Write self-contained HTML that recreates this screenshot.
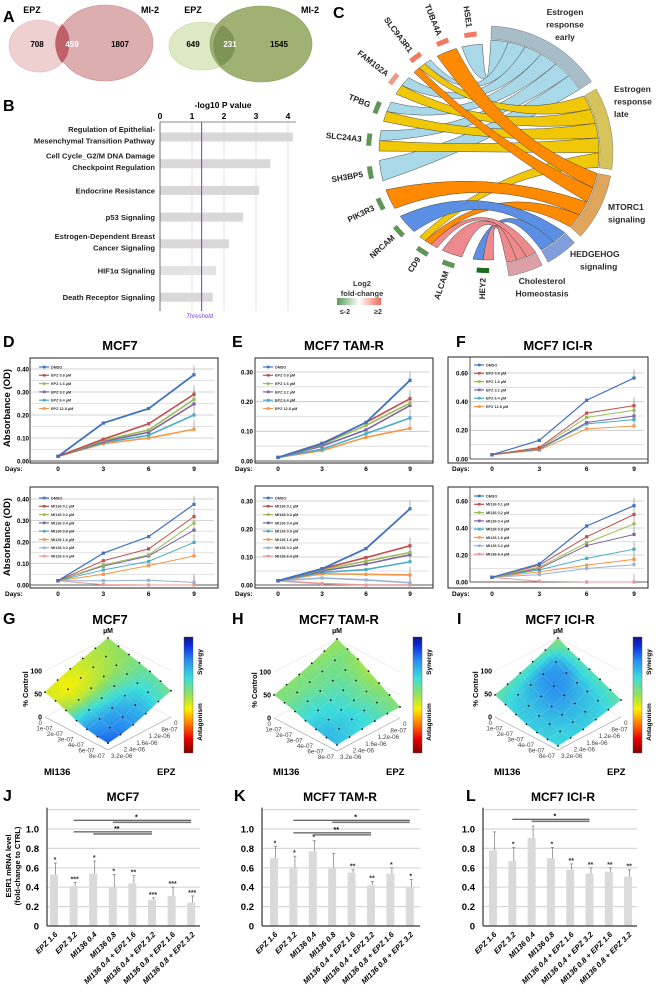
<!DOCTYPE html>
<html><head><meta charset="utf-8"><style>
html,body{margin:0;padding:0;background:#fff;}
svg{display:block;font-family:"Liberation Sans",Arial,sans-serif;}
.b{font-weight:bold;}
</style></head><body>
<svg id="fig" width="659" height="991" viewBox="0 0 659 991" xmlns="http://www.w3.org/2000/svg">
<defs>
<linearGradient id="fcg" x1="0" x2="1" y1="0" y2="0"><stop offset="0" stop-color="#5a9a55"/><stop offset="0.5" stop-color="#ffffff"/><stop offset="1" stop-color="#f26a55"/></linearGradient>
<linearGradient id="jetg" x1="0" x2="0" y1="1" y2="0"><stop offset="0" stop-color="#800000"/><stop offset="0.12" stop-color="#e60000"/><stop offset="0.25" stop-color="#ff7800"/><stop offset="0.38" stop-color="#faf000"/><stop offset="0.5" stop-color="#96e15a"/><stop offset="0.65" stop-color="#3cdcdc"/><stop offset="0.8" stop-color="#288cf0"/><stop offset="0.93" stop-color="#0a28dc"/><stop offset="1" stop-color="#141478"/></linearGradient>
</defs>
<!-- Panel A -->
<g>
<text x="3" y="22" class="b" font-size="16">A</text>
<ellipse cx="39" cy="46" rx="30" ry="26" fill="#efd0d0" stroke="#e3b8b8" stroke-width="0.6"/>
<ellipse cx="105" cy="43" rx="48" ry="38" fill="#d9a7a9" fill-opacity="0.92" stroke="#c89092" stroke-width="0.6"/>
<path d="M69,46 A30,26 0 0 1 62,63 A48,38 0 0 1 62,24 A30,26 0 0 1 69,46Z" fill="#c06068"/>
<text x="32" y="13" class="b" font-size="9" text-anchor="middle">EPZ</text>
<text x="150" y="13" class="b" font-size="9" text-anchor="middle">MI-2</text>
<text x="37" y="47" class="b" font-size="8" text-anchor="middle">708</text>
<text x="72" y="47" class="b" font-size="8" text-anchor="middle" fill="#fff">459</text>
<text x="120" y="47" class="b" font-size="8" text-anchor="middle">1807</text>
<ellipse cx="202" cy="46" rx="33" ry="24" fill="#dde8c5" stroke="#c5d6a4" stroke-width="0.6"/>
<ellipse cx="261" cy="44" rx="51" ry="38" fill="#9bae6c" fill-opacity="0.95" stroke="#8a9d5c" stroke-width="0.6"/>
<path d="M235,46 A33,24 0 0 1 221,66 A51,38 0 0 1 222,25 A33,24 0 0 1 235,46Z" fill="#7f9357"/>
<text x="193" y="13" class="b" font-size="9" text-anchor="middle">EPZ</text>
<text x="310" y="13" class="b" font-size="9" text-anchor="middle">MI-2</text>
<text x="193" y="47" class="b" font-size="8" text-anchor="middle">649</text>
<text x="230" y="47" class="b" font-size="8" text-anchor="middle" fill="#fff">231</text>
<text x="279" y="47" class="b" font-size="8" text-anchor="middle">1545</text>
</g>
<g id="pB"></g>
<g id="pC"></g>
<g id="pDEF"></g>
<g id="pGHI"></g>
<g id="pJKL"></g>
</svg>
<script>
const NS='http://www.w3.org/2000/svg';
function mk(tag,attrs,parent){const e=document.createElementNS(NS,tag);for(const k in attrs)e.setAttribute(k,attrs[k]);parent.appendChild(e);return e;}
function tx(str,x,y,attrs,parent){const e=mk('text',Object.assign({x:x,y:y},attrs),parent);e.textContent=str;return e;}

/* ---------- Panel B data ---------- */
const bCategories=['Regulation of Epithelial-|Mesenchymal Transition Pathway','Cell Cycle_G2/M DNA Damage|Checkpoint Regulation','Endocrine Resistance','p53 Signaling','Estrogen-Dependent Breast|Cancer Signaling','HIF1\u03b1 Signaling','Death Receptor Signaling'];
const bValues=[4.15,3.45,3.1,2.6,2.15,1.75,1.65];
const bTicks=[0,1,2,3,4];
const bThreshold=1.3;

/* ---------- Panel C data ---------- */
const cGenes=['HSE1','TUBA4A','SLC9A3R1','FAM102A','TPBG','SLC24A3','SH3BP5','PIK3R3','NRCAM','CD9','ALCAM','HEY2'];
const cGeneFC=[1.4,1.5,1.3,0.9,-1.2,-1.2,-1.2,-1.2,-1.4,-1.4,-1.4,-2.5];
const cPathways=['Estrogen response early','Estrogen response late','MTORC1 signaling','HEDGEHOG signaling','Cholesterol Homeostasis'];
const cLinks=[[0,0],[2,0],[3,0],[4,0],[5,0],[6,0],[2,1],[3,1],[4,1],[5,1],[9,1],[1,2],[2,2],[7,2],[9,2],[8,3],[11,3],[10,4],[9,4],[11,4]];

/* ---------- Panels D/E/F data ---------- */
const days=[0,3,6,9];
const epzLegend=['DMSO','EPZ 0.8 \u00b5M','EPZ 1.6 \u00b5M','EPZ 3.2 \u00b5M','EPZ 6.4 \u00b5M','EPZ 12.8 \u00b5M'];
const miLegend=['DMSO','MI136 0.1 \u00b5M','MI136 0.2 \u00b5M','MI136 0.4 \u00b5M','MI136 0.8 \u00b5M','MI136 1.6 \u00b5M','MI136 3.2 \u00b5M','MI136 6.4 \u00b5M'];
const dTop=[[0.02,0.165,0.228,0.375],[0.02,0.095,0.162,0.29],[0.02,0.09,0.135,0.268],[0.02,0.085,0.125,0.248],[0.02,0.08,0.112,0.2],[0.02,0.075,0.1,0.138]];
const dBottom=[[0.02,0.148,0.225,0.375],[0.02,0.113,0.168,0.318],[0.02,0.093,0.14,0.288],[0.02,0.088,0.135,0.255],[0.02,0.07,0.11,0.198],[0.02,0.05,0.09,0.135],[0.02,0.02,0.022,0.012],[0.02,0.002,0.0,0.0]];
const eTop=[[0.012,0.058,0.13,0.272],[0.012,0.06,0.13,0.21],[0.012,0.055,0.12,0.195],[0.012,0.05,0.105,0.187],[0.012,0.04,0.092,0.145],[0.012,0.035,0.08,0.11]];
const eBottom=[[0.015,0.058,0.13,0.272],[0.015,0.058,0.098,0.14],[0.015,0.055,0.085,0.116],[0.015,0.05,0.075,0.108],[0.015,0.045,0.055,0.083],[0.015,0.04,0.038,0.036],[0.015,0.025,0.018,0.008],[0.015,0.005,0.0,0.0]];
const fTop=[[0.03,0.13,0.41,0.565],[0.03,0.08,0.32,0.372],[0.03,0.075,0.29,0.34],[0.03,0.07,0.255,0.3],[0.03,0.068,0.245,0.275],[0.03,0.062,0.21,0.23]];
const fBottom=[[0.035,0.135,0.415,0.565],[0.035,0.125,0.335,0.5],[0.035,0.11,0.29,0.43],[0.035,0.1,0.27,0.352],[0.035,0.09,0.175,0.243],[0.035,0.075,0.125,0.168],[0.035,0.055,0.1,0.128],[0.035,0.005,0.0,0.0]];
const dTicks=['0.00','0.10','0.20','0.30','0.40'];
const eTicks=['0.00','0.10','0.20','0.30'];
const fTicks=['0.00','0.20','0.40','0.60'];

/* ---------- Panels G/H/I data (rows: MI136 dose, cols: EPZ dose) ---------- */
const miDoses=['0','1e-07','2e-07','3e-07','4e-07','6e-07','8e-07'];
const epzDoses=['0','8e-07','1.2e-06','1.6e-06','2.4e-06','3.2e-06'];
const zTicks=[0,50,100];
const gControl=[[100,92,84,76,66,54],[94,86,77,68,58,47],[88,79,69,58,47,38],[82,72,60,48,37,28],[75,64,51,39,29,21],[66,56,43,31,22,17],[57,48,36,26,19,15]];
const gSynergy=[[0,-0.05,-0.1,-0.15,-0.2,-0.15],[0.02,-0.05,-0.1,-0.2,-0.25,-0.15],[0.05,0,-0.05,-0.1,-0.1,0],[0.1,0.1,0.15,0.2,0.3,0.35],[0.15,0.25,0.35,0.45,0.5,0.55],[0.15,0.3,0.45,0.55,0.6,0.65],[0.1,0.25,0.45,0.55,0.65,0.7]];
const hControl=[[100,88,76,66,58,50],[90,80,70,61,53,45],[80,71,62,54,46,38],[66,60,53,46,38,30],[52,48,43,37,30,23],[38,36,33,28,22,17],[24,24,22,19,16,13]];
const hSynergy=[[0,0,0.05,0.05,0.05,0.05],[0.05,0.1,0.1,0.1,0.1,0.1],[0,0.1,0.15,0.15,0.2,0.2],[-0.05,0.1,0.2,0.25,0.3,0.3],[0,0.1,0.2,0.3,0.35,0.4],[0.05,0.15,0.25,0.35,0.4,0.45],[0.05,0.15,0.25,0.3,0.35,0.4]];
const iControl=[[100,88,77,67,57,48],[88,74,62,53,46,39],[78,62,48,40,34,29],[68,53,40,30,24,20],[58,46,34,24,18,14],[47,38,28,20,14,11],[37,30,23,16,12,9]];
const iSynergy=[[0.05,0.15,0.2,0.2,0.2,0.15],[0.15,0.5,0.55,0.45,0.35,0.3],[0.2,0.55,0.6,0.5,0.4,0.35],[0.2,0.45,0.55,0.5,0.4,0.35],[0.2,0.4,0.45,0.45,0.4,0.35],[0.2,0.35,0.4,0.4,0.35,0.35],[0.15,0.3,0.35,0.35,0.35,0.3]];

/* ---------- Panels J/K/L data ---------- */
const jklCategories=['EPZ 1.6','EPZ 3.2','MI136 0.4','MI136 0.8','MI136 0.4 + EPZ 1.6','MI136 0.4 + EPZ 3.2','MI136 0.8 + EPZ 1.6','MI136 0.8 + EPZ 3.2'];
const jklTicks=['0','0.2','0.4','0.6','0.8','1.0'];
const jValues=[0.53,0.41,0.54,0.40,0.44,0.27,0.31,0.24];
const jErrTop=[0.65,0.45,0.67,0.53,0.52,0.29,0.40,0.31];
const jStars=['*','***','*','*','**','***','***','***'];
const jSig=[[1,7,3,1.09,'*'],[1,5,2,0.97,'**']];
const kValues=[0.70,0.60,0.77,0.60,0.55,0.42,0.54,0.40];
const kErrTop=[0.82,0.72,0.88,0.75,0.58,0.46,0.60,0.48];
const kStars=['*','*','*','','**','**','*','*'];
const kSig=[[1,7,3,1.09,'*'],[1,5,2,0.96,'**']];
const lValues=[0.78,0.67,0.91,0.70,0.58,0.54,0.56,0.51];
const lErrTop=[0.97,0.81,1.03,0.81,0.64,0.60,0.60,0.58];
const lStars=['','*','','*','**','**','**','**'];
const lSig=[[1,5,2,1.10,'*']];

/* ================= Panel B ================= */
(function(){
 const g=document.getElementById('pB');
 const x=v=>160+v*32;
 const yc=i=>137+i*26.7;
 let t=tx('B',3,111,{'class':'b','font-size':16},g);
 
 
 t=tx('-log10 P value',223,108,{'class':'b','font-size':8.5,'text-anchor':'middle'},g);
 
 
 bTicks.forEach(v=>{
  const gl=mk('line',{x1:x(v),x2:x(v),y1:122,y2:311,stroke:'#dcdcdc','stroke-width':0.8},g);
  
  
  const tl=tx(String(v),x(v),119,{'class':'b','font-size':8.5,'text-anchor':'middle'},g);
  
  
 });
 bValues.forEach((v,i)=>{
  const r=mk('rect',{x:160,y:yc(i)-4.5,width:x(v)-160,height:9,fill:i===5?'#e3e3e3':'#d8d8d8'},g);
  
  
  const lines=bCategories[i].split('|');
  lines.forEach((ln,k)=>{
   const yy=lines.length===1?yc(i)+3:yc(i)-5+k*11.5;
   const lt=tx(ln,155,yy,{'class':'b','font-size':7.6,'text-anchor':'end',fill:'#222'},g);
   
   
  });
 });
 let ax=mk('line',{x1:160,x2:296,y1:122,y2:122,stroke:'#666','stroke-width':0.8},g);
 
 
 ax=mk('line',{x1:160,x2:160,y1:122,y2:311,stroke:'#555','stroke-width':0.8},g);
 
 
 const th=mk('line',{x1:x(bThreshold),x2:x(bThreshold),y1:122,y2:311,stroke:'#8a3cf0','stroke-width':1.1},g);
 
 
 t=tx('Threshold',x(bThreshold)-2,318,{'font-size':6,'font-style':'italic','text-anchor':'middle',fill:'#7b3ce8'},g);
 
 
})();

/* ================= Panel C ================= */
(function(){
 const g=document.getElementById('pC');
 const cx=487,cy=152;
 const P=(a,r)=>[cx+r*Math.sin(a*Math.PI/180),cy-r*Math.cos(a*Math.PI/180)];
 const geneAng=[-8,-22,-37,-52,-68,-84,-100,-116,-132,-147,-161,-178];
 const pStart=[2,60,101,136,154],pEnd=[56,98,132,151,170];
 const pFill=['#a9d9e8','#f0c808','#ff8a00','#5b8fe3','#ec8a8e'];
 const pArc=['#a7bdc8','#d6c35c','#e0a55c','#7f9edb','#dca0a6'];
 let t=tx('C',333,18,{'class':'b','font-size':16},g);
 
 
 const gSlots=cGenes.map(()=>[]);const pSlots=cPathways.map(()=>[]);
 cLinks.forEach((l,i)=>{gSlots[l[0]].push(i);pSlots[l[1]].push(i);});
 const lg={},lp={};
 gSlots.forEach((arr,gi)=>{arr.sort((a,b)=>cLinks[b][1]-cLinks[a][1]);const w=11/arr.length;arr.forEach((li,k)=>{lg[li]=[geneAng[gi]-5.5+k*w,geneAng[gi]-5.5+(k+1)*w];});});
 pSlots.forEach((arr,pi)=>{arr.sort((a,b)=>geneAng[cLinks[b][0]]-geneAng[cLinks[a][0]]);const w=(pEnd[pi]-pStart[pi])/arr.length;arr.forEach((li,k)=>{lp[li]=[pStart[pi]+k*w,pStart[pi]+(k+1)*w];});});
 const order=cLinks.map((l,i)=>i).sort((a,b)=>cLinks[a][1]-cLinks[b][1]);
 order.forEach(li=>{
  const R1=108,R2=112;
  const [g1,g2]=lg[li],[p1,p2]=lp[li];
  const a=P(g1,R1),b=P(g2,R1),c=P(p1,R2),d=P(p2,R2);
  const q=(u,v)=>[cx+(u[0]+v[0]-2*cx)*0.18,cy+(u[1]+v[1]-2*cy)*0.18];
  const q1=q(b,c),q2=q(d,a);
  const dstr=`M${a[0]},${a[1]} A${R1},${R1} 0 0 1 ${b[0]},${b[1]} Q${q1[0]},${q1[1]} ${c[0]},${c[1]} A${R2},${R2} 0 0 1 ${d[0]},${d[1]} Q${q2[0]},${q2[1]} ${a[0]},${a[1]}Z`;
  const rb=mk('path',{d:dstr,fill:pFill[cLinks[li][1]],stroke:'#3a3a3a','stroke-width':0.45},g);
  
  
 });
 cPathways.forEach((n,pi)=>{
  const a=P(pStart[pi],113),b=P(pEnd[pi],113),c=P(pEnd[pi],126),d=P(pStart[pi],126);
  const lf=(pEnd[pi]-pStart[pi])>180?1:0;
  const arc=mk('path',{d:`M${a[0]},${a[1]} A113,113 0 ${lf} 1 ${b[0]},${b[1]} L${c[0]},${c[1]} A126,126 0 ${lf} 0 ${d[0]},${d[1]}Z`,fill:pArc[pi],stroke:'#666','stroke-width':0.4},g);
  
  
 });
 const pLab=[[['Estrogen','response','early'],565,15,'middle'],[['Estrogen','response','late'],614,92,'start'],[['MTORC1','signaling'],608,210,'start'],[['HEDGEHOG','signaling'],570,257,'start'],[['Cholesterol','Homeostasis'],542,284,'middle']];
 pLab.forEach((pl,i)=>{
  pl[0].forEach((s,k)=>{
   const xx=(i===3&&k===1)?580:pl[1];
   const lt=tx(s,xx,pl[2]+k*12.5,{'class':'b','font-size':8.5,'text-anchor':pl[3],fill:'#2a2a2a'},g);
   
   
  });
 });
 cGenes.forEach((n,gi)=>{
  const a=geneAng[gi];
  const fc=cGeneFC[gi];
  const col=fc>2?'#f0624c':fc>0?(fc>1.2?'#f27a62':'#f39a88'):(fc<-2?'#1f6b1f':'#5f9657');
  const p1=P(a-3,116),p2=P(a+3,116),p3=P(a+3,121),p4=P(a-3,121);
  const bar=mk('path',{d:`M${p1[0]},${p1[1]} A116,116 0 0 1 ${p2[0]},${p2[1]} L${p3[0]},${p3[1]} A121,121 0 0 0 ${p4[0]},${p4[1]}Z`,fill:col},g);
  
  
  const lp=P(a,126);
  const lt=tx(n,lp[0],lp[1]+3,{'class':'b','font-size':8.2,'text-anchor':'end',fill:'#222',transform:`rotate(${a+90} ${lp[0]} ${lp[1]})`},g);
  
  
 });
 t=tx('Log2',362,286,{'class':'b','font-size':7.5,'text-anchor':'middle',fill:'#333'},g);
 
 
 t=tx('fold-change',362,296,{'class':'b','font-size':7.5,'text-anchor':'middle',fill:'#333'},g);
 
 
 const lgb=mk('rect',{x:337,y:298,width:44,height:7,fill:'url(#fcg)'},g);
 
 
 t=tx('\u2264-2',345,314,{'class':'b','font-size':7,'text-anchor':'middle',fill:'#333'},g);
 
 
 t=tx('\u22652',378,314,{'class':'b','font-size':7,'text-anchor':'middle',fill:'#333'},g);
 
 
})();

/* ================= Panels D/E/F ================= */
const lineColors=['#3f72c2','#c0504d','#9bbb59','#8064a2','#4bacc6','#f79646','#95b3d7','#e39b9a'];
function lineChart(cfg){
 const g=document.getElementById('pDEF');
 const X=d=>cfg.x0+(d/9)*(cfg.x9-cfg.x0);
 const Y=v=>cfg.y0-(v/cfg.ymax)*(cfg.y0-cfg.yTop);
 const fr=mk('rect',{x:cfg.box[0],y:cfg.box[1],width:cfg.box[2]-cfg.box[0],height:cfg.box[3]-cfg.box[1],fill:'#fff',stroke:'#222','stroke-width':1},g);
 
 
 const n=cfg.ticks.length-1;
 for(let i=0;i<=n*2;i++){
  const v=cfg.ymax*i/(n*2);
  const gl=mk('line',{x1:cfg.axisX,x2:cfg.box[2]-4,y1:Y(v),y2:Y(v),stroke:i%2?'#d8d8d8':'#c4c4c4','stroke-width':0.8},g);
  
  
 }
 cfg.ticks.forEach((s,i)=>{
  const tl=tx(s,cfg.labX,Y(cfg.ymax*i/n)+2.3,{'class':'b','font-size':6.2,'text-anchor':'end'},g);
  
  
 });
 let ax=mk('line',{x1:cfg.axisX,x2:cfg.box[2],y1:cfg.y0,y2:cfg.y0,stroke:'#333','stroke-width':0.8},g);
 
 
 ax=mk('line',{x1:cfg.axisX,x2:cfg.axisX,y1:cfg.box[1],y2:cfg.y0,stroke:'#333','stroke-width':0.8},g);
 
 
 let t=tx('Days:',cfg.daysX,cfg.box[3]+8,{'class':'b','font-size':6.5},g);
 
 
 days.forEach(d=>{
  const tl=tx(String(d),X(d),cfg.box[3]+8,{'class':'b','font-size':6.5,'text-anchor':'middle'},g);
  
  
 });
 const thick=cfg.thin?1:1.6;
 cfg.series.slice().reverse().forEach((s,ri)=>{
  const si=cfg.series.length-1-ri;
  const c=lineColors[si];
  const eb=mk('line',{x1:X(9),x2:X(9),y1:Y(s[3]),y2:Y(s[3]+cfg.ymax*0.1),stroke:'#666','stroke-width':0.5},g);
  
  
  const pl=mk('polyline',{points:s.map((v,i)=>X(days[i])+','+Y(v)).join(' '),fill:'none',stroke:c,'stroke-width':si===0?thick+0.2:thick},g);
  
  
  s.forEach((v,i)=>{
   const m=mk('rect',{x:X(days[i])-1.6,y:Y(v)-1.6,width:3.2,height:3.2,fill:c},g);
   
   
  });
 });
 cfg.legend.forEach((s,i)=>{
  const yy=cfg.legY+i*8.3;
  const ll=mk('line',{x1:cfg.legX,x2:cfg.legX+10,y1:yy,y2:yy,stroke:lineColors[i],'stroke-width':1.2},g);
  
  
  const lm=mk('rect',{x:cfg.legX+4,y:yy-1.3,width:2.6,height:2.6,fill:lineColors[i]},g);
  
  
  const lt=tx(s,cfg.legX+12,yy+1.4,{'font-size':3.8,'class':'b',fill:'#333'},g);
  
  
 });
}
lineChart({box:[30,358,218,463],axisX:30,x0:58,x9:194,y0:461,yTop:369,ymax:0.4,ticks:dTicks,labX:29,daysX:5,series:dTop,legend:epzLegend,legX:39,legY:367});
lineChart({box:[30,487,218,588],axisX:30,x0:58,x9:194,y0:585,yTop:499,ymax:0.4,ticks:dTicks,labX:29,daysX:5,series:dBottom,legend:miLegend,legX:39,legY:498,thin:true});
lineChart({box:[255,358,433,463],axisX:255,x0:278,x9:410,y0:461,yTop:372,ymax:0.3,ticks:eTicks,labX:253,daysX:235,series:eTop,legend:epzLegend,legX:263,legY:367});
lineChart({box:[255,486,433,588],axisX:255,x0:278,x9:410,y0:585,yTop:501,ymax:0.3,ticks:eTicks,labX:253,daysX:235,series:eBottom,legend:miLegend,legX:263,legY:498});
lineChart({box:[448,357,648,463],axisX:470,x0:492,x9:634,y0:459,yTop:373,ymax:0.6,ticks:fTicks,labX:468,daysX:452,series:fTop,legend:epzLegend,legX:474,legY:365,thin:true});
lineChart({box:[448,487,648,588],axisX:470,x0:492,x9:634,y0:582,yTop:501,ymax:0.6,ticks:fTicks,labX:468,daysX:452,series:fBottom,legend:miLegend,legX:474,legY:496,thin:true});
(function(){
 const g=document.getElementById('pDEF');
 const labs=[['D',3,347],['E',232,347],['F',456,347]];
 labs.forEach(l=>{const t=tx(l[0],l[1],l[2],{'class':'b','font-size':16},g);
  
  });
 const tt=[['MCF7',120],['MCF7 TAM-R',344],['MCF7 ICI-R',558]];
 tt.forEach(l=>{const t=tx(l[0],l[1],350,{'class':'b','font-size':13,'text-anchor':'middle'},g);
  
  });
 [408,537].forEach(yc=>{const t=tx('Absorbance (OD)',0,0,{'class':'b','font-size':9.5,'text-anchor':'middle',transform:`translate(10 ${yc}) rotate(-90)`},g);
  
  });
})();

/* ================= Panels G/H/I ================= */
function jet(s){
 const st=[[-1,[128,0,0]],[-0.75,[230,0,0]],[-0.5,[255,120,0]],[-0.25,[250,240,0]],[0,[150,225,90]],[0.3,[60,220,220]],[0.6,[40,140,240]],[0.85,[10,40,220]],[1,[20,20,120]]];
 s=Math.max(-1,Math.min(1,s));
 for(let i=0;i<st.length-1;i++){if(s<=st[i+1][0]){const f=(s-st[i][0])/(st[i+1][0]-st[i][0]);const c=st[i][1].map((v,k)=>Math.round(v+(st[i+1][1][k]-v)*f));return `rgb(${c[0]},${c[1]},${c[2]})`;}}
 return 'rgb(20,20,120)';
}
function bil(arr,m,e){
 const m0=Math.min(Math.floor(m),arr.length-2),e0=Math.min(Math.floor(e),arr[0].length-2);
 const fm=m-m0,fe=e-e0;
 return arr[m0][e0]*(1-fm)*(1-fe)+arr[m0+1][e0]*fm*(1-fe)+arr[m0][e0+1]*(1-fm)*fe+arr[m0+1][e0+1]*fm*fe;
}
function surface(cfg){
 const g=document.getElementById('pGHI');
 const W=63,H=33,K=0.46;
 const nm=miDoses.length-1,ne=epzDoses.length-1;
 const pr=(m,e,z)=>[cfg.cx+(m/nm-e/ne)*W,cfg.by0+(m/nm+e/ne)*H-z*K];
 let t=tx(cfg.letter,cfg.lx,624,{'class':'b','font-size':16},g);
 
 
 t=tx(cfg.title,cfg.cx+2,624,{'class':'b','font-size':13,'text-anchor':'middle'},g);
 
 
 t=tx('\u00b5M',cfg.cx,633,{'class':'b','font-size':7,'text-anchor':'middle'},g);
 
 
 const bl=pr(0,ne,0),br=pr(nm,0,0),bf=pr(nm,ne,0);
 zTicks.forEach(z=>{
  const a=pr(0,ne,z),b=pr(0,0,z),c=pr(nm,0,z);
  const wl=mk('polyline',{points:`${a[0]},${a[1]} ${b[0]},${b[1]} ${c[0]},${c[1]}`,fill:'none',stroke:'#e2e2e2','stroke-width':0.6},g);
  
  
  const zl=tx(String(z),bl[0]-3,bl[1]-z*K+2.5,{'class':'b','font-size':7,'text-anchor':'end'},g);
  
  
 });
 const bp=mk('polyline',{points:`${bl[0]},${bl[1]} ${bf[0]},${bf[1]} ${br[0]},${br[1]}`,fill:'none',stroke:'#999','stroke-width':0.6},g);
 
 
 t=tx('% Control',0,0,{'class':'b','font-size':7.5,'text-anchor':'middle',transform:`translate(${bl[0]-17} ${bl[1]-28}) rotate(-90)`},g);
 
 
 const S=4;
 for(let a=0;a<nm*S;a++)for(let b=0;b<ne*S;b++){
  const pts=[[a,b],[a+1,b],[a+1,b+1],[a,b+1]].map(p=>[p[0]/S,p[1]/S]);
  const sc=bil(cfg.syn,(a+0.5)/S,(b+0.5)/S);
  const poly=pts.map(p=>pr(p[0],p[1],bil(cfg.z,p[0],p[1])).join(',')).join(' ');
  const col=jet(sc);
  const c=mk('polygon',{points:poly,fill:col,stroke:col,'stroke-width':0.5},g);
  
  
 }
 for(let m=0;m<=nm;m++){
  const pts=[];for(let e=0;e<=ne;e++)pts.push(pr(m,e,cfg.z[m][e]).join(','));
  const gl=mk('polyline',{points:pts.join(' '),fill:'none',stroke:'rgba(255,255,255,0.35)','stroke-width':0.4},g);
  
  
 }
 for(let e=0;e<=ne;e++){
  const pts=[];for(let m=0;m<=nm;m++)pts.push(pr(m,e,cfg.z[m][e]).join(','));
  const gl=mk('polyline',{points:pts.join(' '),fill:'none',stroke:'rgba(255,255,255,0.35)','stroke-width':0.4},g);
  
  
 }
 for(let m=0;m<=nm;m++)for(let e=0;e<=ne;e++){
  const p=pr(m,e,cfg.z[m][e]);
  const d=mk('circle',{cx:p[0],cy:p[1],r:0.9,fill:'#111'},g);
  
  
 }
 miDoses.forEach((s,m)=>{
  const p=pr(m,ne,0);
  const l=tx(s,p[0]-3,p[1]+8,{'font-size':6.3,'text-anchor':'end',fill:'#444'},g);
  
  
 });
 epzDoses.forEach((s,e)=>{
  const p=pr(nm,e,0);
  const l=tx(s,p[0]+3,p[1]+8,{'font-size':6.3,'text-anchor':'start',fill:'#444'},g);
  
  
 });
 t=tx('MI136',cfg.cx-64,775,{'class':'b','font-size':9.5},g);
 
 
 t=tx('EPZ',cfg.cx+49,775,{'class':'b','font-size':9.5},g);
 
 
 const cb=mk('rect',{x:cfg.cbx,y:637,width:9,height:116,fill:'url(#jetg)',stroke:'#555','stroke-width':0.4},g);
 
 
 t=tx('Synergy',0,0,{'class':'b','font-size':6.5,'text-anchor':'middle',transform:`translate(${cfg.cbx+18} 662) rotate(-90)`},g);
 
 
 t=tx('Antagonism',0,0,{'class':'b','font-size':6.5,'text-anchor':'middle',transform:`translate(${cfg.cbx+18} 722) rotate(-90)`},g);
 
 
}
surface({letter:'G',lx:3,title:'MCF7',cx:108,by0:684,cbx:184,z:gControl,syn:gSynergy});
surface({letter:'H',lx:232,title:'MCF7 TAM-R',cx:337,by0:685,cbx:413,z:hControl,syn:hSynergy});
surface({letter:'I',lx:457,title:'MCF7 ICI-R',cx:558,by0:684,cbx:633,z:iControl,syn:iSynergy});

/* ================= Panels J/K/L ================= */
function barChart(cfg){
 const g=document.getElementById('pJKL');
 const Y=v=>926-v*97;
 const X=i=>cfg.bx0+i*cfg.step;
 let t=tx(cfg.letter,cfg.lx,801,{'class':'b','font-size':16},g);
 
 
 t=tx(cfg.title,cfg.tx,801,{'class':'b','font-size':12,'text-anchor':'middle'},g);
 
 
 jklTicks.forEach((s,i)=>{
  const v=i*0.2;
  if(i>0){const gl=mk('line',{x1:cfg.ax,x2:cfg.gx,y1:Y(v),y2:Y(v),stroke:'#d6d6d6','stroke-width':1.2},g);
   
   }
  const tl=tx(s,cfg.ax-8,Y(v)+3.5,{'class':'b','font-size':9.5,'text-anchor':'end'},g);
  
  
 });
 const topg=mk('line',{x1:cfg.ax,x2:cfg.gx,y1:Y(1.2),y2:Y(1.2),stroke:'#d6d6d6','stroke-width':1.2},g);
 
 
 cfg.vals.forEach((v,i)=>{
  const e=mk('line',{x1:X(i)+1.5,x2:X(i)+1.5,y1:Y(v),y2:Y(cfg.err[i]),stroke:'#777','stroke-width':0.7},g);
  
  
  const ec=mk('line',{x1:X(i),x2:X(i)+3,y1:Y(cfg.err[i]),y2:Y(cfg.err[i]),stroke:'#777','stroke-width':0.7},g);
  
  
  const r=mk('rect',{x:X(i)-4,y:Y(v),width:8,height:Y(0)-Y(v),fill:'#dadada'},g);
  
  
  if(cfg.stars[i]){const st=tx(cfg.stars[i],X(i)+1,Y(cfg.err[i])-1,{'class':'b','font-size':7,'text-anchor':'middle',fill:'#333'},g);
   
   }
  const xl=tx(jklCategories[i],X(i)+4,935,{'class':'b','font-size':7.6,'font-style':'italic','text-anchor':'end',transform:`rotate(-45 ${X(i)+4} 935)`},g);
  
  
 });
 let ax=mk('line',{x1:cfg.ax,x2:cfg.ax,y1:Y(1.22),y2:Y(0),stroke:'#333','stroke-width':1.2},g);
 
 
 ax=mk('line',{x1:cfg.ax,x2:cfg.gx,y1:Y(0),y2:Y(0),stroke:'#555','stroke-width':1.4},g);
 
 
 cfg.sig.forEach(s=>{
  const l=mk('line',{x1:X(s[0]),x2:X(s[1]),y1:Y(s[3]),y2:Y(s[3]),stroke:'#333','stroke-width':1},g);
  
  
  const o=mk('line',{x1:X(s[2]),x2:X(s[1]),y1:Y(s[3])+2,y2:Y(s[3])+2,stroke:'#777','stroke-width':1.6},g);
  
  
  const lt=tx(s[4],(X(s[0])+X(s[1]))/2+4,Y(s[3])-1,{'class':'b','font-size':7,'text-anchor':'middle'},g);
  
  
 });
}
barChart({letter:'J',lx:3,title:'MCF7',tx:123,ax:47,gx:200,bx0:54,step:19.6,vals:jValues,err:jErrTop,stars:jStars,sig:jSig});
barChart({letter:'K',lx:234,title:'MCF7 TAM-R',tx:340,ax:262,gx:420,bx0:274,step:19.4,vals:kValues,err:kErrTop,stars:kStars,sig:kSig});
barChart({letter:'L',lx:466,title:'MCF7 ICI-R',tx:563,ax:483,gx:637,bx0:493,step:19.3,vals:lValues,err:lErrTop,stars:lStars,sig:lSig});
(function(){
 const g=document.getElementById('pJKL');
 let t=tx('ESR1 mRNA level',0,0,{'class':'b','font-size':7.5,'text-anchor':'middle',transform:'translate(11 866) rotate(-90)'},g);
 
 
 t=tx('(fold-change to CTRL)',0,0,{'class':'b','font-size':7.5,'text-anchor':'middle',transform:'translate(20 866) rotate(-90)'},g);
 
 
})();
</script>
</body></html>
